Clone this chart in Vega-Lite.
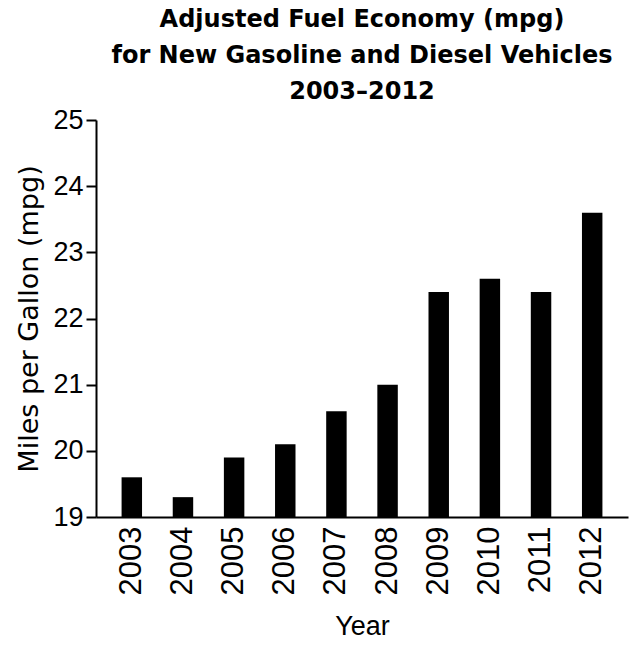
{
  "$schema": "https://vega.github.io/schema/vega-lite/v6.json",
  "autosize": {"type": "none"},
  "padding": {"left": 96, "top": 120, "right": 3, "bottom": 128},
  "width": 532,
  "height": 397,
  "background": "white",
  "title": {
    "text": ["Adjusted Fuel Economy (mpg)", "for New Gasoline and Diesel Vehicles", "2003–2012"],
    "font": "DejaVu Sans",
    "fontSize": 24,
    "fontWeight": "bold",
    "color": "black",
    "lineHeight": 36,
    "anchor": "middle",
    "offset": 2
  },
  "data": {
    "values": [
      {"year": "2003", "mpg": 19.6},
      {"year": "2004", "mpg": 19.3},
      {"year": "2005", "mpg": 19.9},
      {"year": "2006", "mpg": 20.1},
      {"year": "2007", "mpg": 20.6},
      {"year": "2008", "mpg": 21.0},
      {"year": "2009", "mpg": 22.4},
      {"year": "2010", "mpg": 22.6},
      {"year": "2011", "mpg": 22.4},
      {"year": "2012", "mpg": 23.6}
    ]
  },
  "mark": {"type": "bar", "color": "black"},
  "encoding": {
    "x": {
      "field": "year",
      "type": "ordinal",
      "title": "Year",
      "scale": {"paddingInner": 0.6, "paddingOuter": 0.5},
      "axis": {
        "labelAngle": -90,
        "labelAlign": "right",
        "labelBaseline": "middle",
        "labelFont": "Liberation Sans",
        "labelFontSize": 31,
        "labelColor": "black",
        "labelPadding": 9,
        "ticks": false,
        "domainColor": "black",
        "domainWidth": 2,
        "titleFont": "Liberation Sans",
        "titleFontSize": 27,
        "titleFontWeight": "normal",
        "titleColor": "black",
        "titlePadding": 19
      }
    },
    "y": {
      "field": "mpg",
      "type": "quantitative",
      "title": "Miles per Gallon (mpg)",
      "scale": {"domain": [19, 25], "zero": false, "nice": false},
      "axis": {
        "values": [19, 20, 21, 22, 23, 24, 25],
        "grid": false,
        "labelFont": "Liberation Sans",
        "labelFontSize": 27,
        "labelColor": "black",
        "labelPadding": 3,
        "tickSize": 10,
        "tickColor": "black",
        "tickWidth": 2,
        "domainColor": "black",
        "domainWidth": 2,
        "titleFont": "DejaVu Sans",
        "titleFontSize": 27,
        "titleFontWeight": "normal",
        "titleColor": "black",
        "titlePadding": 9
      }
    },
    "y2": {"datum": 19}
  },
  "config": {"view": {"stroke": null}}
}
